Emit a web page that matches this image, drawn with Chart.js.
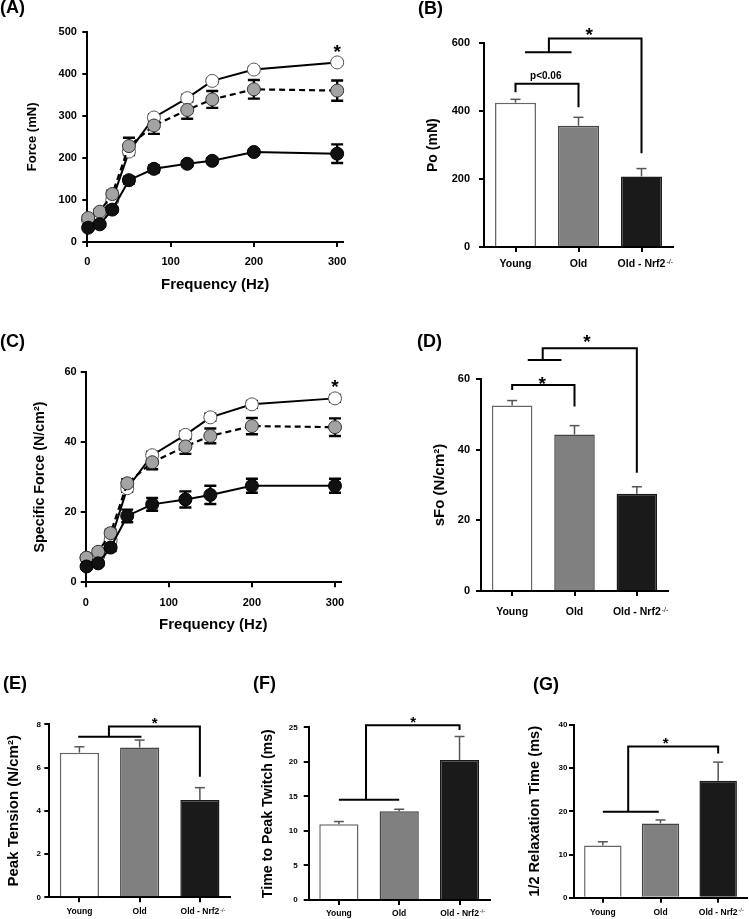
<!DOCTYPE html>
<html><head><meta charset="utf-8">
<script src="https://cdn.jsdelivr.net/npm/chart.js@4"></script>
<style>
html,body{margin:0;padding:0;background:#fff;}
body{width:749px;height:919px;position:relative;overflow:hidden;font-family:'Liberation Sans',Arial,sans-serif;}
canvas{position:absolute;}
.lbl{position:absolute;font-weight:bold;font-size:18px;line-height:18px;color:#000;white-space:nowrap;}
</style></head><body>
<canvas id="cA"></canvas><canvas id="cB"></canvas><canvas id="cC"></canvas><canvas id="cD"></canvas>
<canvas id="cE"></canvas><canvas id="cF"></canvas><canvas id="cG"></canvas>
<div class="lbl" style="left:0px;top:-2.5px">(A)</div>
<div class="lbl" style="left:418px;top:-1.5px">(B)</div>
<div class="lbl" style="left:0px;top:331.5px">(C)</div>
<div class="lbl" style="left:417px;top:331.5px">(D)</div>
<div class="lbl" style="left:3px;top:673.5px">(E)</div>
<div class="lbl" style="left:253px;top:673.5px">(F)</div>
<div class="lbl" style="left:533px;top:674.5px">(G)</div>
<script>
// ---------------- data ----------------
const freqHz = [1, 15, 30, 50, 80, 120, 150, 200, 300];
const freqTicks = [0, 100, 200, 300];
const forceYoung    = [52, 65, 100, 215, 296, 342, 383, 410, 427];
const forceYoungErr = [3, 3, 5, 8, 8, 8, 6, 6, 5];
const forceOld      = [57, 72, 114, 228, 277, 314, 339, 363, 360];
const forceOldErr   = [6, 6, 8, 20, 20, 21, 20, 22, 24];
const forceNrf2     = [34, 42, 77, 147, 174, 186, 193, 214, 210];
const forceNrf2Err  = [4, 5, 6, 8, 8, 6, 6, 6, 22];
const sfYoung    = [7, 7.5, 12, 26.8, 36.2, 42, 47, 50.7, 52.4];
const sfYoungErr = [0.5, 0.5, 0.6, 1, 1, 1, 1, 1, 1];
const sfOld      = [7, 8.7, 14, 28.2, 34.2, 38.7, 41.7, 44.5, 44.2];
const sfOldErr   = [0.8, 0.8, 1, 1.2, 2, 2.1, 2.1, 2.3, 2.5];
const sfNrf2     = [4.5, 5.4, 9.9, 18.9, 22.2, 23.6, 24.9, 27.5, 27.5];
const sfNrf2Err  = [0.6, 0.7, 1, 1.8, 1.8, 2.3, 2.6, 2, 2];
const groups = ['Young', 'Old', 'Old - Nrf2'];
const poMean = [425, 357, 208];           const poErr = [10, 25, 23];
const sfoMean = [52.5, 44.3, 27.5];       const sfoErr = [1.4, 2.5, 2];
const peakTension = [6.69, 6.93, 4.5];    const peakTensionErr = [0.27, 0.34, 0.57];
const timeToPeak = [10.96, 12.84, 20.27]; const timeToPeakErr = [0.4, 0.3, 3.4];
const halfRelax = [12.1, 17.2, 27.1];     const halfRelaxErr = [0.85, 0.8, 4.3];

// ---------------- helpers ----------------
const FONT = "'Liberation Sans', Arial, Helvetica, sans-serif";
Chart.defaults.font.family = FONT;

function place(id, rect){
  const c = document.getElementById(id);
  c.width = rect[2]; c.height = rect[3];
  c.style.left = rect[0]+'px'; c.style.top = rect[1]+'px';
  c.style.width = rect[2]+'px'; c.style.height = rect[3]+'px';
  return c;
}
function geom(rect, area, yTitleX, yTitleSize, xTitleY, xTitleSize){
  const [cx, cy, cw, ch] = rect, [l, t, r, b] = area;
  const padL = yTitleX - cx - yTitleSize*0.6;
  const W = l - cx - padL;
  let H = xTitleY ? (xTitleY + xTitleSize*0.6 - b) : (cy + ch - b);
  const padB = cy + ch - b - H;
  return {padding:{left:padL, top:t - cy, right:cx + cw - r, bottom:padB}, W, H};
}
function xPix(chart, x){
  const s = chart.scales.x;
  if (s.type === 'category'){
    const p0 = s.getPixelForValue(0), p1 = s.getPixelForValue(1);
    return p0 + x*(p1 - p0);
  }
  return s.getPixelForValue(x);
}
function errorPlugin(mode){
  function draw(chart){
    const ctx = chart.ctx, ys = chart.scales.y;
    ctx.save();
    chart.data.datasets.forEach((ds, i) => {
      if (!ds.errors) return;
      const meta = chart.getDatasetMeta(i);
      meta.data.forEach((el, j) => {
        const d = ds.data[j]; const v = (typeof d === 'object') ? d.y : d;
        const e = ds.errors[j];
        const x = el.x;
        const yT = ys.getPixelForValue(v + e);
        const yB = mode === 'line' ? ys.getPixelForValue(v - e) : ys.getPixelForValue(v);
        ctx.strokeStyle = ds.errorColor; ctx.lineWidth = ds.errorWidth;
        ctx.beginPath(); ctx.moveTo(x, yB); ctx.lineTo(x, yT); ctx.stroke();
        ctx.beginPath(); ctx.moveTo(x - ds.capHalf, yT); ctx.lineTo(x + ds.capHalf, yT);
        if (mode === 'line'){ ctx.moveTo(x - ds.capHalf, yB); ctx.lineTo(x + ds.capHalf, yB); }
        ctx.stroke();
      });
    });
    ctx.restore();
  }
  return mode === 'line'
    ? {id:'errLine', beforeDatasetsDraw: draw}
    : {id:'errBar', afterDatasetsDraw: draw};
}
function bracketPlugin(spec){
  return {id:'brackets', afterDraw(chart){
    const ctx = chart.ctx, ys = chart.scales.y;
    ctx.save();
    ctx.strokeStyle = '#000'; ctx.lineWidth = spec.lw || 2; ctx.lineJoin = 'miter'; ctx.lineCap = 'butt';
    (spec.lines || []).forEach(pl => {
      ctx.beginPath();
      pl.forEach(([x, y], k) => { const px = xPix(chart, x), py = ys.getPixelForValue(y); k ? ctx.lineTo(px, py) : ctx.moveTo(px, py); });
      ctx.stroke();
    });
    (spec.texts || []).forEach(t => {
      ctx.font = `bold ${t.size}px ${FONT}`; ctx.fillStyle = '#000';
      ctx.textAlign = 'center'; ctx.textBaseline = 'alphabetic';
      const px = xPix(chart, t.x), py = ys.getPixelForValue(t.y);
      ctx.fillText(t.text, px, py + t.size*(t.text === '*' ? 0.56 : 0.36));
    });
    ctx.restore();
  }};
}
function supPlugin(o){
  return {id:'sup', afterDraw(chart){
    const s = chart.scales.x, ctx = chart.ctx;
    const cy = chart.chartArea.bottom + o.tl + o.pad + o.font*0.6;
    const cx = s.getPixelForTick(o.index);
    ctx.save();
    ctx.font = `bold ${o.font}px ${FONT}`;
    const w = ctx.measureText(groups[o.index]).width;
    ctx.font = `${o.size}px ${FONT}`; ctx.fillStyle = '#000';
    ctx.textAlign = 'left'; ctx.textBaseline = 'alphabetic';
    ctx.fillText(o.text, cx + w/2 + 1, cy - o.font*0.36 + o.size*0.55);
    ctx.restore();
  }};
}
function yScale(o){
  return {
    type:'linear', position:'left', min:o.min, max:o.max,
    afterBuildTicks(s){ const t=[]; for(let v=o.min; v<=o.max+1e-9; v+=o.step) t.push({value:v}); s.ticks = t; },
    ticks:{color:'#000', font:{family:FONT, weight:'bold', size:o.tickSize}, padding:o.tickPad},
    grid:{display:true, drawOnChartArea:false, drawTicks:true, tickLength:o.tl, color:'#000', lineWidth:2},
    border:{display:true, color:'#000', width:2},
    title:{display:true, text:o.title, color:'#000', font:{family:FONT, weight:'bold', size:o.titleSize, lineHeight:1.2}, padding:0},
    afterFit(s){ s.width = o.W; }
  };
}
function xLinear(o){
  return {
    type:'linear', position:'bottom', min:0, max:307,
    afterBuildTicks(s){ s.ticks = freqTicks.map(v => ({value:v})); },
    ticks:{color:'#000', font:{family:FONT, weight:'bold', size:o.tickSize}, padding:o.tickPad, maxRotation:0, autoSkip:false},
    grid:{display:true, drawOnChartArea:false, drawTicks:true, tickLength:o.tl, color:'#000', lineWidth:2},
    border:{display:true, color:'#000', width:2},
    title:{display:true, text:'Frequency (Hz)', color:'#000', font:{family:FONT, weight:'bold', size:o.titleSize, lineHeight:1.2}, padding:0},
    afterFit(s){ s.height = o.H; }
  };
}
function xCat(o){
  return {
    type:'category', position:'bottom', offset:true,
    ticks:{color:'#000', font:{family:FONT, weight:'bold', size:o.tickSize}, padding:o.tickPad, maxRotation:0, autoSkip:false},
    grid:{display:true, offset:false, drawOnChartArea:false, drawTicks:true, tickLength:o.tl, color:'#000', lineWidth:2},
    border:{display:true, color:'#000', width:2},
    afterFit(s){ s.height = o.H; }
  };
}
function pts(ys){ return freqHz.map((x, i) => ({x, y: ys[i]})); }

function lineChart(id, rect, area, g, cfg){
  const G = geom(rect, area, g.yTitleX, g.yTitleSize, g.xTitleY, g.xTitleSize);
  const c = place(id, rect);
  const base = {showLine:true, tension:0, clip:false, pointRadius:6.5, pointHoverRadius:6.5, errorColor:'#000', errorWidth:2.4, capHalf:6};
  new Chart(c, {
    type:'line',
    data:{datasets:[
      Object.assign({}, base, {label:'Young', data:pts(cfg.young), errors:cfg.youngErr, order:3,
        borderColor:'#000', borderWidth:2, pointBackgroundColor:'#fff', pointBorderColor:'#555', pointBorderWidth:1}),
      Object.assign({}, base, {label:'Old', data:pts(cfg.old), errors:cfg.oldErr, order:2,
        borderColor:'#000', borderWidth:2.2, borderDash:[6,4], pointBackgroundColor:'#a3a3a3', pointBorderColor:'#333', pointBorderWidth:1}),
      Object.assign({}, base, {label:'Old-Nrf2', data:pts(cfg.nrf2), errors:cfg.nrf2Err, order:1,
        borderColor:'#000', borderWidth:2, pointBackgroundColor:'#111', pointBorderColor:'#000', pointBorderWidth:1})
    ]},
    options:{
      responsive:false, animation:false, events:[],
      layout:{padding:G.padding},
      plugins:{legend:{display:false}, tooltip:{enabled:false}},
      scales:{
        x:xLinear({tickSize:g.tickSize, tickPad:g.xTickPad, tl:5, titleSize:g.xTitleSize, H:G.H}),
        y:yScale({min:0, max:cfg.ymax, step:cfg.ystep, tickSize:g.tickSize, tickPad:g.yTickPad, tl:5, title:cfg.title, titleSize:g.yTitleSize, W:G.W})
      }
    },
    plugins:[errorPlugin('line'), bracketPlugin(cfg.brackets)]
  });
}
function barChart(id, rect, area, g, cfg){
  const G = geom(rect, area, g.yTitleX, g.yTitleSize, null, null);
  const c = place(id, rect);
  new Chart(c, {
    type:'bar',
    data:{labels:groups, datasets:[{
      data:cfg.mean, errors:cfg.err,
      backgroundColor:['#ffffff', '#808080', '#1a1a1a'],
      borderColor:['#666666', '#444444', '#1a1a1a'],
      borderWidth:1.5, categoryPercentage:1, barPercentage:0.65,
      errorColor:'#555', errorWidth:1.5, capHalf:g.capHalf
    }]},
    options:{
      responsive:false, animation:false, events:[],
      layout:{padding:G.padding},
      plugins:{legend:{display:false}, tooltip:{enabled:false}},
      scales:{
        x:xCat({tickSize:g.xTickSize, tickPad:g.xTickPad, tl:g.tl, H:G.H}),
        y:yScale({min:0, max:cfg.ymax, step:cfg.ystep, tickSize:g.yTickSize, tickPad:g.yTickPad, tl:g.tl, title:cfg.title, titleSize:g.yTitleSize, W:G.W})
      }
    },
    plugins:[errorPlugin('bar'), bracketPlugin(cfg.brackets),
      supPlugin({index:2, text:'-/-', size:g.supSize, font:g.xTickSize, tl:g.tl, pad:g.xTickPad})]
  });
}

// ---------------- panels ----------------
lineChart('cA', [0,0,370,300], [87.3,31.7,343,242],
  {yTitleX:32, yTitleSize:13, xTitleY:285, xTitleSize:15, tickSize:11, xTickPad:8.4, yTickPad:5.4},
  {young:forceYoung, youngErr:forceYoungErr, old:forceOld, oldErr:forceOldErr, nrf2:forceNrf2, nrf2Err:forceNrf2Err,
   ymax:500, ystep:100, title:'Force (mN)',
   brackets:{texts:[{x:300, y:462, text:'*', size:19}]}});

barChart('cB', [370,0,379,300], [484,43.3,673,247],
  {yTitleX:433, yTitleSize:14, xTickSize:10.5, yTickSize:11, xTickPad:5.7, yTickPad:9, tl:5, capHalf:5, supSize:7},
  {mean:poMean, err:poErr, ymax:600, ystep:200, title:'Po (mN)',
   brackets:{lw:2, lines:[[[0,456],[0,481],[1,481],[1,412]], [[0.15,574],[0.89,574]], [[0.53,574],[0.53,614],[2,614],[2,276]]],
     texts:[{x:0.48, y:506, text:'p<0.06', size:10}, {x:1.17, y:638, text:'*', size:19}]}});

lineChart('cC', [0,300,370,340], [85.7,371.7,340.8,582.3],
  {yTitleX:40, yTitleSize:14.3, xTitleY:625, xTitleSize:15, tickSize:11, xTickPad:9.1, yTickPad:4},
  {young:sfYoung, youngErr:sfYoungErr, old:sfOld, oldErr:sfOldErr, nrf2:sfNrf2, nrf2Err:sfNrf2Err,
   ymax:60, ystep:20, title:'Specific Force (N/cm²)',
   brackets:{texts:[{x:300, y:56.9, text:'*', size:19}]}});

barChart('cD', [370,300,379,340], [481,379,668,591],
  {yTitleX:440, yTitleSize:15, xTickSize:10.5, yTickSize:11, xTickPad:9.4, yTickPad:6, tl:5, capHalf:5, supSize:7},
  {mean:sfoMean, err:sfoErr, ymax:60, ystep:20, title:'sFo (N/cm²)',
   brackets:{lw:2, lines:[[[0,56.9],[0,58.3],[1,58.3],[1,52.2]], [[0.25,65.4],[0.79,65.4]], [[0.49,65.4],[0.49,68.7],[2,68.7],[2,33.5]]],
     texts:[{x:0.48, y:59.8, text:'*', size:19}, {x:1.2, y:71.9, text:'*', size:19}]}});

barChart('cE', [0,640,250,279], [49.3,724.3,230,897.3],
  {yTitleX:14, yTitleSize:15, xTickSize:8.5, yTickSize:8, xTickPad:4.3, yTickPad:3.3, tl:5, capHalf:5, supSize:5.5},
  {mean:peakTension, err:peakTensionErr, ymax:8, ystep:2, title:'Peak Tension (N/cm²)',
   brackets:{lw:2, lines:[[[-0.02,7.43],[1.03,7.43]], [[0.49,7.43],[0.49,7.9],[2,7.9],[2,5.58]]],
     texts:[{x:1.25, y:8.2, text:'*', size:15}]}});

barChart('cF', [250,640,260,279], [308.7,727.3,489.7,900],
  {yTitleX:268, yTitleSize:14.2, xTickSize:8.5, yTickSize:8, xTickPad:3.2, yTickPad:6, tl:5, capHalf:5, supSize:5.5},
  {mean:timeToPeak, err:timeToPeakErr, ymax:25, ystep:5, title:'Time to Peak Twitch (ms)',
   brackets:{lw:2, lines:[[[0,14.5],[1,14.5]], [[0.45,14.5],[0.45,25.3],[2,25.3],[2,24.6]]],
     texts:[{x:1.23, y:26.2, text:'*', size:15}]}});

barChart('cG', [500,640,249,279], [574,725,747,897.7],
  {yTitleX:535, yTitleSize:14.6, xTickSize:8.5, yTickSize:8, xTickPad:4.6, yTickPad:1.5, tl:5, capHalf:5, supSize:5.5},
  {mean:halfRelax, err:halfRelaxErr, ymax:40, ystep:10, title:'1/2 Relaxation Time (ms)',
   brackets:{lw:2, lines:[[[0,19.9],[0.97,19.9]], [[0.44,19.9],[0.44,35],[2,35],[2,33.4]]],
     texts:[{x:1.09, y:36.6, text:'*', size:15}]}});
</script>
</body></html>
